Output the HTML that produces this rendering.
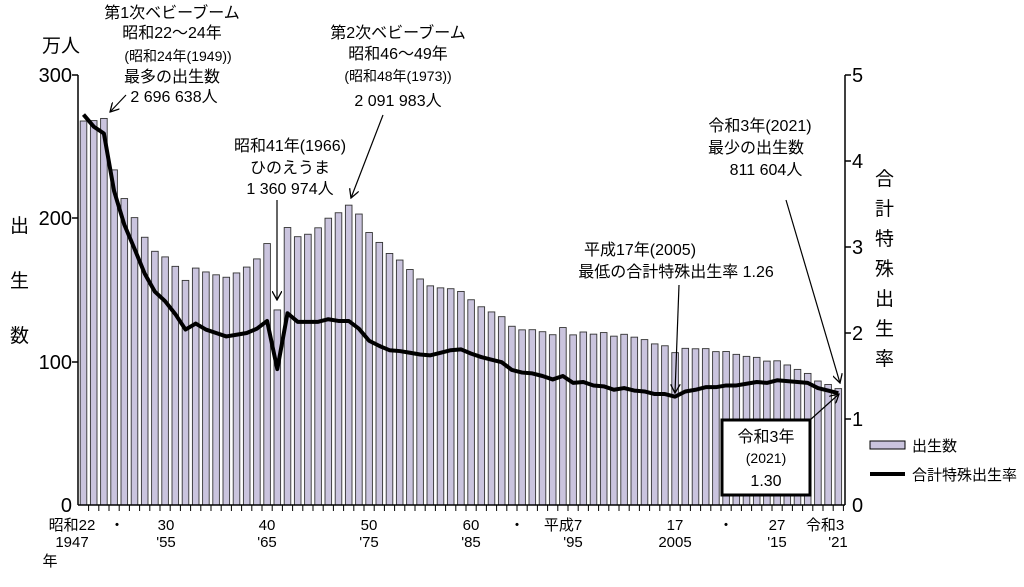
<!DOCTYPE html>
<html><head><meta charset="utf-8"><style>
body{margin:0;background:#fff;}
svg text{font-family:"Liberation Sans","Noto Sans CJK JP",sans-serif;fill:#000;}
</style></head><body>
<svg id="s" width="1024" height="582" viewBox="0 0 1024 582" xmlns="http://www.w3.org/2000/svg">
<defs><marker id="ah" markerWidth="10" markerHeight="10" refX="9" refY="5" orient="auto" markerUnits="userSpaceOnUse"><path d="M0,0 L9,5 L0,10" fill="none" stroke="#000" stroke-width="1.3"/></marker></defs>
<g id="bars"></g>
<polyline id="tfr" fill="none" stroke="#000" stroke-width="4" stroke-linejoin="round"/>
<g stroke="#000" stroke-width="1.5">
<line x1="78" y1="75" x2="78" y2="505"/>
<line x1="845" y1="75" x2="845" y2="505"/>
<line x1="78" y1="505" x2="845" y2="505"/>
<line x1="72" y1="75" x2="78" y2="75"/><line x1="72" y1="218" x2="78" y2="218"/><line x1="72" y1="362" x2="78" y2="362"/>
<line x1="845" y1="75" x2="851" y2="75"/><line x1="845" y1="161" x2="851" y2="161"/><line x1="845" y1="247" x2="851" y2="247"/><line x1="845" y1="333" x2="851" y2="333"/><line x1="845" y1="419" x2="851" y2="419"/>
</g>
<g id="xt" stroke="#000" stroke-width="1"></g>
<g font-size="20">
<text x="72" y="82" text-anchor="end">300</text>
<text x="72" y="225" text-anchor="end">200</text>
<text x="72" y="369" text-anchor="end">100</text>
<text x="72" y="512" text-anchor="end">0</text>
<text x="852" y="82">5</text><text x="852" y="168">4</text><text x="852" y="254">3</text><text x="852" y="340">2</text><text x="852" y="426">1</text><text x="852" y="512">0</text>
</g>
<text x="42" y="52" font-size="19">万人</text>
<g font-size="19"><text x="10" y="232">出</text><text x="10" y="287">生</text><text x="10" y="342">数</text></g>
<g font-size="19"><text x="875" y="185">合</text><text x="875" y="215">計</text><text x="875" y="245">特</text><text x="875" y="275">殊</text><text x="875" y="305">出</text><text x="875" y="335">生</text><text x="875" y="365">率</text></g>
<g font-size="15" text-anchor="middle">
<text x="72" y="530">昭和22</text><text x="72" y="547">1947</text><text x="50" y="566">年</text>
<text x="117" y="530">・</text>
<text x="166" y="530">30</text><text x="166" y="547">'55</text>
<text x="267" y="530">40</text><text x="267" y="547">'65</text>
<text x="369" y="530">50</text><text x="369" y="547">'75</text>
<text x="471" y="530">60</text><text x="471" y="547">'85</text>
<text x="517" y="530">・</text>
<text x="563" y="530">平成7</text><text x="573" y="547">'95</text>
<text x="675" y="530">17</text><text x="675" y="547">2005</text>
<text x="726" y="530">・</text>
<text x="777" y="530">27</text><text x="777" y="547">'15</text>
<text x="825" y="530">令和3</text><text x="838" y="547">'21</text>
</g>
<g font-size="16" text-anchor="middle">
<text x="172" y="18">第1次ベビーブーム</text>
<text x="172" y="38">昭和22～24年</text>
<text x="178" y="61" font-size="14">(昭和24年(1949))</text>
<text x="172" y="82">最多の出生数</text>
<text x="174" y="102">2 696 638人</text>
<text x="398" y="38">第2次ベビーブーム</text>
<text x="398" y="59">昭和46～49年</text>
<text x="398" y="81" font-size="14">(昭和48年(1973))</text>
<text x="398" y="106">2 091 983人</text>
<text x="290" y="151">昭和41年(1966)</text>
<text x="290" y="173">ひのえうま</text>
<text x="290" y="194">1 360 974人</text>
<text x="760" y="131">令和3年(2021)</text>
<text x="756" y="153">最少の出生数</text>
<text x="766" y="175">811 604人</text>
<text x="640" y="255">平成17年(2005)</text>
<text x="676" y="277">最低の合計特殊出生率  1.26</text>
</g>
<g stroke="#000" stroke-width="1.2" fill="none" marker-end="url(#ah)">
<line x1="126" y1="95" x2="110" y2="112"/>
<line x1="383" y1="115" x2="351" y2="198"/>
<line x1="277" y1="200" x2="277" y2="300"/>
<line x1="786" y1="200" x2="840" y2="383"/>
<line x1="679" y1="285" x2="675" y2="393"/>
<line x1="810" y1="420" x2="839" y2="394"/>
</g>
<rect x="722" y="420" width="88" height="75" fill="#fff" stroke="#000" stroke-width="3"/>
<g font-size="16" text-anchor="middle"><text x="766" y="442">令和3年</text><text x="766" y="463" font-size="14">(2021)</text><text x="766" y="486">1.30</text></g>
<rect x="870" y="441" width="35" height="8" fill="#cac4de" stroke="#000" stroke-width="1"/>
<text x="912" y="451" font-size="15">出生数</text>
<line x1="870" y1="474" x2="905" y2="474" stroke="#000" stroke-width="4"/>
<text x="912" y="480" font-size="15">合計特殊出生率</text>
</svg>
<script>
var B=[267.9,268.2,269.7,233.8,213.8,200.5,186.8,177.0,173.1,166.5,156.7,165.3,162.6,160.6,158.9,161.9,166.0,171.7,182.4,136.1,193.6,187.2,188.9,193.4,200.1,203.9,209.2,203.0,190.1,183.2,175.5,170.9,164.3,157.7,152.9,151.5,150.9,149.0,143.2,138.3,134.7,131.4,124.7,122.2,122.3,120.9,118.8,123.8,118.7,120.7,119.2,120.3,117.8,119.1,117.1,115.4,112.4,111.1,106.3,109.3,109.0,109.1,107.0,107.1,105.1,103.7,103.0,100.4,100.6,97.7,94.6,91.8,86.5,84.1,81.2];
var T=[4.54,4.40,4.32,3.65,3.26,2.98,2.69,2.48,2.37,2.22,2.04,2.11,2.04,2.00,1.96,1.98,2.00,2.05,2.14,1.58,2.23,2.13,2.13,2.13,2.16,2.14,2.14,2.05,1.91,1.85,1.80,1.79,1.77,1.75,1.74,1.77,1.80,1.81,1.76,1.72,1.69,1.66,1.57,1.54,1.53,1.50,1.46,1.50,1.42,1.43,1.39,1.38,1.34,1.36,1.33,1.32,1.29,1.29,1.26,1.32,1.34,1.37,1.37,1.39,1.39,1.41,1.43,1.42,1.45,1.44,1.43,1.42,1.36,1.33,1.30];
var ns="http://www.w3.org/2000/svg",g=document.getElementById("bars"),xt=document.getElementById("xt"),pts=[];
for(var i=0;i<B.length;i++){var cx=83.5+10.2*i,h=B[i]*1.4333;
var r=document.createElementNS(ns,"rect");r.setAttribute("x",cx-3.3);r.setAttribute("y",505-h);r.setAttribute("width",6.6);r.setAttribute("height",h);r.setAttribute("fill","#cac4de");r.setAttribute("stroke","#333");r.setAttribute("stroke-width","0.9");g.appendChild(r);
pts.push(cx+","+(505-T[i]*86));
var l=document.createElementNS(ns,"line");var tx=cx+5.1;l.setAttribute("x1",tx);l.setAttribute("x2",tx);l.setAttribute("y1",505);l.setAttribute("y2",511);xt.appendChild(l);}
document.getElementById("tfr").setAttribute("points",pts.join(" "));
</script>
</body></html>
